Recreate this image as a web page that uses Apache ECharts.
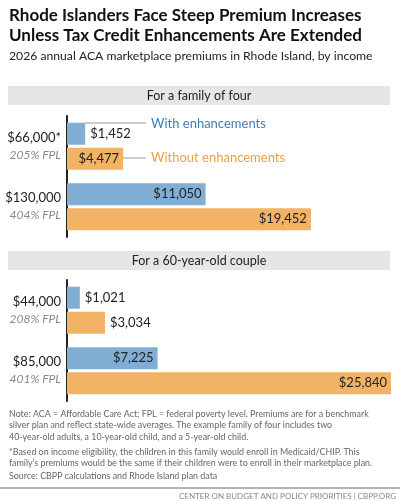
<html>
<head>
<meta charset="utf-8">
<script src="https://cdn.jsdelivr.net/npm/echarts@6/dist/echarts.min.js"></script>
<style>
  * { margin: 0; padding: 0; }
  #main { width: 400px; height: 501px; }
</style>
</head>
<body>
<div id="main"></div>
<script>
  // data
  let incomes1 = ['$66,000*', '$130,000'];
  let fpl1 = ['205% FPL', '404% FPL'];
  let withEnh1 = [1452, 11050];
  let withoutEnh1 = [4477, 19452];

  let incomes2 = ['$44,000', '$85,000'];
  let fpl2 = ['208% FPL', '401% FPL'];
  let withEnh2 = [1021, 7225];
  let withoutEnh2 = [3034, 25840];

  const BLUE = '#80aed4', ORANGE = '#f2b366';
  const FONT = 'Lato';

  function fmt(v) { return '$' + v.toLocaleString('en-US'); }

  function barData(arr) {
    return arr.map(function (v) {
      let inside = v > 4000;
      return {
        value: v,
        label: {
          show: true,
          position: inside ? 'insideRight' : 'right',
          distance: inside ? 4 : 5,
          formatter: fmt(v),
          color: '#222', fontSize: 13, fontFamily: FONT
        }
      };
    });
  }

  function catAxis(idx, incomes, fpls) {
    return {
      type: 'category', gridIndex: idx, inverse: true,
      data: incomes.map(function (s, i) { return s + '|' + fpls[i]; }),
      axisTick: {show: false},
      axisLine: {lineStyle: {color: '#222', width: 2}},
      axisLabel: {
        margin: 6,
        formatter: function (v) {
          let p = v.split('|');
          return '{a|' + p[0] + '}\n{b|' + p[1] + '}';
        },
        rich: {
          a: {fontSize: 13, color: '#222', fontFamily: FONT, align: 'right', lineHeight: 17},
          b: {fontSize: 12, color: '#888', fontStyle: 'italic', fontFamily: FONT, align: 'right', lineHeight: 17}
        }
      }
    };
  }

  function valAxis(idx) {
    return {type: 'value', gridIndex: idx, min: 0, max: 25840, show: false};
  }

  let myChart = echarts.init(document.getElementById('main'));
  let option = {
    animation: false,
    grid: [
      {left: 67, right: 9, top: 116, height: 121},
      {left: 67, right: 9, top: 280, height: 121}
    ],
    xAxis: [valAxis(0), valAxis(1)],
    yAxis: [catAxis(0, incomes1, fpl1), catAxis(1, incomes2, fpl2)],
    series: [
      {type: 'bar', xAxisIndex: 0, yAxisIndex: 0, data: barData(withEnh1), itemStyle: {color: BLUE}, barWidth: 22, barGap: '14%'},
      {type: 'bar', xAxisIndex: 0, yAxisIndex: 0, data: barData(withoutEnh1), itemStyle: {color: ORANGE}, barWidth: 22, barGap: '14%'},
      {type: 'bar', xAxisIndex: 1, yAxisIndex: 1, data: barData(withEnh2), itemStyle: {color: BLUE}, barWidth: 22, barGap: '14%'},
      {type: 'bar', xAxisIndex: 1, yAxisIndex: 1, data: barData(withoutEnh2), itemStyle: {color: ORANGE}, barWidth: 22, barGap: '14%'}
    ],
    graphic: [
      {type: 'text', left: 9, top: 6, style: {text: 'Rhode Islanders Face Steep Premium Increases\nUnless Tax Credit Enhancements Are Extended', fontSize: 17, fontWeight: 'bold', fontFamily: FONT, fill: '#111', lineHeight: 20}},
      {type: 'text', left: 9, top: 50, style: {text: '2026 annual ACA marketplace premiums in Rhode Island, by income', fontSize: 12.2, fontFamily: FONT, fill: '#222'}},
      {type: 'rect', shape: {x: 8, y: 86, width: 382, height: 19}, style: {fill: '#e6e6e6'}},
      {type: 'text', x: 199, y: 95.5, style: {text: 'For a family of four', fontSize: 12.5, fontFamily: FONT, fill: '#222', align: 'center', verticalAlign: 'middle'}},
      {type: 'rect', shape: {x: 8, y: 251, width: 382, height: 19}, style: {fill: '#e6e6e6'}},
      {type: 'text', x: 199, y: 260.5, style: {text: 'For a 60-year-old couple', fontSize: 12.5, fontFamily: FONT, fill: '#222', align: 'center', verticalAlign: 'middle'}},
      {type: 'line', shape: {x1: 85, y1: 123, x2: 146, y2: 123}, style: {stroke: '#999', lineWidth: 1}},
      {type: 'text', x: 151, y: 124, style: {text: 'With enhancements', fontSize: 13, fontFamily: FONT, fill: '#3f7db8', verticalAlign: 'middle'}},
      {type: 'line', shape: {x1: 123, y1: 158, x2: 146, y2: 158}, style: {stroke: '#999', lineWidth: 1}},
      {type: 'text', x: 151, y: 158, style: {text: 'Without enhancements', fontSize: 13, fontFamily: FONT, fill: '#e9a040', verticalAlign: 'middle'}},
      {type: 'text', left: 9, top: 408, style: {text: 'Note: ACA = Affordable Care Act; FPL = federal poverty level. Premiums are for a benchmark\nsilver plan and reflect state-wide averages. The example family of four includes two\n40-year-old adults, a 10-year-old child, and a 5-year-old child.', fontSize: 8.9, fontFamily: FONT, fill: '#666', lineHeight: 11.5}},
      {type: 'text', left: 9, top: 446, style: {text: '*Based on income eligibility, the children in this family would enroll in Medicaid/CHIP. This\nfamily\u2019s premiums would be the same if their children were to enroll in their marketplace plan.', fontSize: 8.9, fontFamily: FONT, fill: '#666', lineHeight: 11.5}},
      {type: 'text', left: 9, top: 472, style: {text: 'Source: CBPP calculations and Rhode Island plan data', fontSize: 8.9, fontFamily: FONT, fill: '#666'}},
      {type: 'line', shape: {x1: 0, y1: 488, x2: 400, y2: 488}, style: {stroke: '#999', lineWidth: 1.5}},
      {type: 'text', right: 4, top: 492, style: {text: 'CENTER ON BUDGET AND POLICY PRIORITIES | CBPP.ORG', fontSize: 8, fontFamily: FONT, fill: '#888'}}
    ]
  };
  myChart.setOption(option);
</script>
</body>
</html>
